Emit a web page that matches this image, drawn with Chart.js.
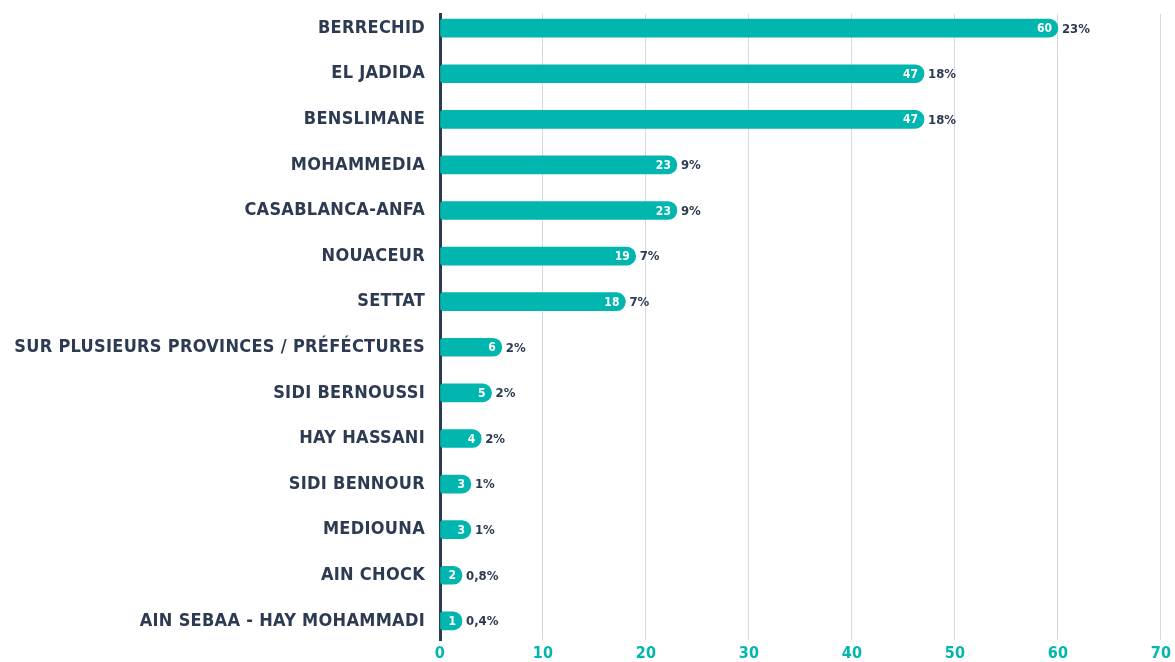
<!DOCTYPE html>
<html>
<head>
<meta charset="utf-8">
<script src="https://cdn.jsdelivr.net/npm/chart.js@4.4.1/dist/chart.umd.min.js"></script>
<style>
  html, body { margin: 0; padding: 0; background: #fff; }
  #wrap { width: 1175px; height: 662px; }
</style>
</head>
<body>
<div id="wrap"><canvas id="chart"></canvas></div>
<script>
const categories = [
    "BERRECHID", "EL JADIDA", "BENSLIMANE", "MOHAMMEDIA", "CASABLANCA-ANFA",
    "NOUACEUR", "SETTAT", "SUR PLUSIEURS PROVINCES / PRÉFÉCTURES", "SIDI BERNOUSSI",
    "HAY HASSANI", "SIDI BENNOUR", "MEDIOUNA", "AIN CHOCK", "AIN SEBAA - HAY MOHAMMADI"
];
const counts = [60, 47, 47, 23, 23, 19, 18, 6, 5, 4, 3, 3, 2, 1];
const shares = ["23%", "18%", "18%", "9%", "9%", "7%", "7%", "2%", "2%", "2%", "1%", "1%", "0,8%", "0,4%"];
const xTicks = [0, 10, 20, 30, 40, 50, 60, 70];

const TEAL = "#00b6ae";
const DARK = "#2c3a52";
const FONT = "'DejaVu Sans Condensed', 'DejaVu Sans', sans-serif";

// letter spacing for all canvas text
const spacing = {
    id: "spacing",
    beforeDraw(chart) { chart.ctx.letterSpacing = "0.3px"; }
};

// value inside the bar end + share after the bar
const barLabels = {
    id: "barLabels",
    afterDatasetsDraw(chart) {
        let ctx = chart.ctx;
        let bars = chart.getDatasetMeta(0).data;
        ctx.save();
        ctx.letterSpacing = "0px";
        ctx.textBaseline = "middle";
        bars.forEach((bar, i) => {
            ctx.font = "bold 12px " + FONT;
            ctx.fillStyle = "#ffffff";
            ctx.textAlign = "right";
            ctx.fillText(String(counts[i]), bar.x - 6, bar.y + 1);
            ctx.font = "bold 13px " + FONT;
            ctx.fillStyle = DARK;
            ctx.textAlign = "left";
            ctx.fillText(shares[i], bar.x + 4, bar.y + 1);
        });
        ctx.restore();
    }
};

new Chart(document.getElementById("chart"), {
    type: "bar",
    data: {
        datasets: [{
            data: counts.map((v, i) => ({ x: v, y: i })),
            backgroundColor: TEAL,
            barThickness: 18,
            minBarLength: 22,
            borderSkipped: false,
            borderRadius: { topLeft: 3, bottomLeft: 3, topRight: 9, bottomRight: 9 }
        }]
    },
    options: {
        indexAxis: "y",
        responsive: true,
        maintainAspectRatio: false,
        animation: false,
        layout: { padding: { top: 14, right: 14, left: 0, bottom: 0 } },
        plugins: { legend: { display: false }, tooltip: { enabled: false } },
        scales: {
            x: {
                type: "linear",
                min: 0,
                max: 70,
                afterFit(scale) { scale.height = 22; },
                afterBuildTicks(scale) { scale.ticks = xTicks.map(v => ({ value: v })); },
                grid: { color: "#d6d9df", lineWidth: 1, drawTicks: false },
                border: { display: false },
                ticks: {
                    color: TEAL,
                    padding: 4,
                    font: { family: FONT, size: 16, weight: "bold" }
                }
            },
            y: {
                type: "linear",
                reverse: true,
                offset: false,
                min: -0.31,
                max: 13.42,
                afterFit(scale) {
                    scale.width = 440;
                    scale.paddingTop = 0;
                    scale.paddingBottom = 0;
                },
                afterBuildTicks(scale) { scale.ticks = categories.map((c, i) => ({ value: i })); },
                grid: { display: false, drawTicks: false },
                border: { display: true, color: DARK, width: 3 },
                ticks: {
                    color: DARK,
                    padding: 15,
                    autoSkip: false,
                    font: { family: FONT, size: 18, weight: "bold" },
                    callback: v => categories[v]
                }
            }
        }
    },
    plugins: [spacing, barLabels]
});
</script>
</body>
</html>
